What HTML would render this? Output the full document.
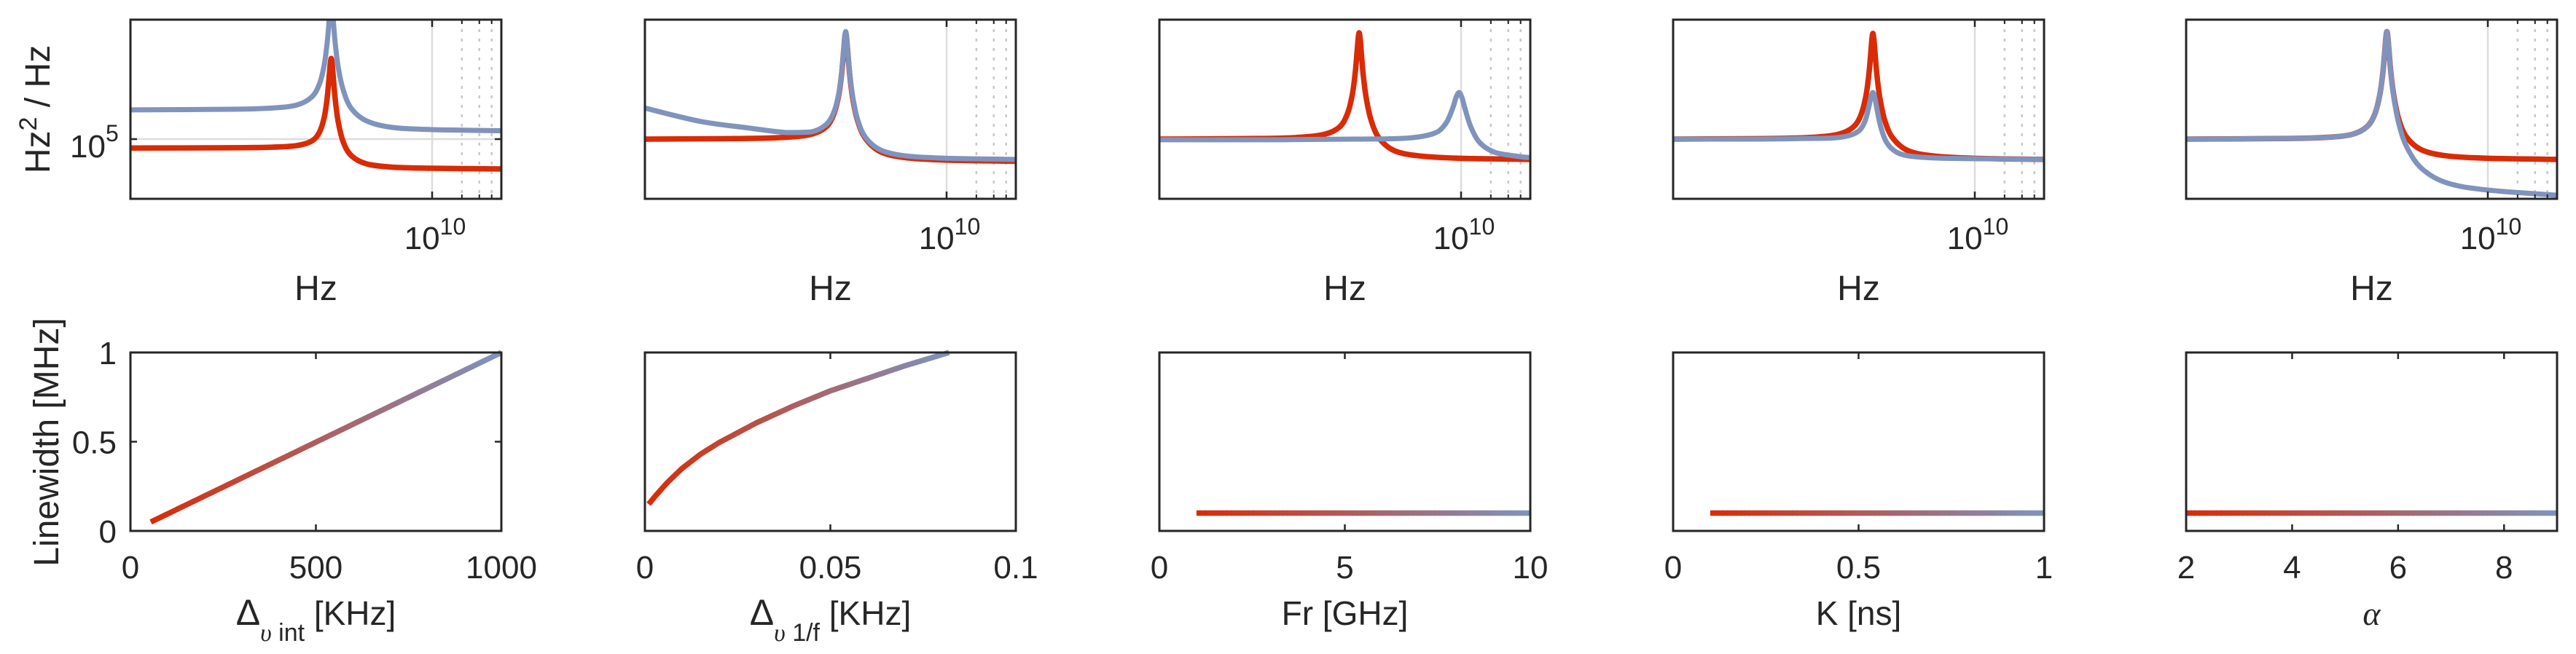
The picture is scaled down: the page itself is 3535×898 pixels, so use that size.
<!DOCTYPE html>
<html><head><meta charset="utf-8">
<style>
html,body{margin:0;padding:0;background:#fff;}
svg{display:block;}
text{font-family:"Liberation Sans",sans-serif;fill:#262626;}
</style></head>
<body>
<svg id="fig" width="3535" height="898" viewBox="0 0 3535 898" xmlns="http://www.w3.org/2000/svg">
<defs id="defs"></defs>
</svg>
<script>
// ---- Top row spectra (log10 frequency, log10 PSD) ----
const specLf1R=[6.95,7.98,8.38,8.63,8.78,8.86,8.91,8.94,8.96,8.97,8.98,8.99,9.0,9.02,9.05,9.10,9.18,9.33,9.58,9.98,10.7];
const specV1R=[4.85,4.855,4.864,4.891,4.965,5.112,5.37,5.703,6.062,6.256,6.35,6.254,6.055,5.675,5.297,4.96,4.728,4.589,4.532,4.512,4.50];
const specLf1B=[6.95,7.98,8.38,8.63,8.78,8.86,8.91,8.94,8.96,8.97,8.98,8.99,9.0,9.02,9.05,9.10,9.18,9.33,9.58,9.98,10.7];
const specV1B=[5.49,5.50,5.52,5.57,5.70,5.92,6.25,6.63,7.01,7.21,7.3,7.20,7.00,6.61,6.21,5.83,5.52,5.31,5.20,5.16,5.14];

const specLf2R=[6.95,7.98,8.38,8.63,8.78,8.86,8.91,8.94,8.96,8.97,8.98,8.99,9.0,9.02,9.05,9.10,9.18,9.33,9.58,9.98,10.7];
const specV2R=[5.0,5.01,5.03,5.08,5.2,5.42,5.74,6.11,6.49,6.69,6.78,6.68,6.48,6.09,5.69,5.31,5.01,4.79,4.69,4.65,4.63];
const specLf2B=[6.95,7.5,7.98,8.38,8.63,8.78,8.86,8.91,8.94,8.96,8.97,8.98,8.99,9.0,9.02,9.05,9.10,9.18,9.33,9.58,9.98,10.7];
const specV2B=[5.52,5.30,5.19,5.11,5.12,5.24,5.45,5.76,6.13,6.51,6.71,6.80,6.70,6.50,6.11,5.72,5.33,5.03,4.82,4.72,4.68,4.66];

const specLf3R=[6.95,7.97,8.37,8.62,8.77,8.85,8.90,8.93,8.95,8.96,8.97,8.98,8.99,9.01,9.04,9.09,9.17,9.32,9.57,9.97,10.7];
const specV3R=[5.0,5.01,5.03,5.08,5.2,5.42,5.74,6.11,6.49,6.69,6.78,6.68,6.48,6.09,5.70,5.32,5.02,4.81,4.72,4.68,4.66];
const specLf3B=[6.95,8.18,8.93,9.38,9.62,9.77,9.86,9.92,9.95,9.98,10.01,10.04,10.10,10.19,10.34,10.58,10.7];
const specV3B=[4.99,4.99,5.0,5.01,5.05,5.13,5.30,5.54,5.70,5.78,5.69,5.51,5.20,4.94,4.78,4.71,4.69];

const specLf4R=[6.95,7.97,8.37,8.62,8.77,8.85,8.90,8.93,8.95,8.96,8.97,8.98,8.99,9.01,9.04,9.09,9.17,9.32,9.57,9.97,10.7];
const specV4R=[5.0,5.01,5.03,5.08,5.2,5.41,5.73,6.1,6.48,6.68,6.77,6.67,6.47,6.08,5.69,5.31,5.02,4.81,4.72,4.68,4.66];
const specLf4B=[6.95,7.77,8.27,8.57,8.73,8.83,8.89,8.93,8.95,8.97,8.99,9.01,9.05,9.11,9.21,9.37,9.67,10.17,10.7];
const specV4B=[5.0,5.0,5.01,5.02,5.06,5.14,5.30,5.55,5.70,5.78,5.69,5.51,5.20,4.94,4.78,4.71,4.68,4.67,4.66];

const specLf5R=[6.95,7.98,8.38,8.63,8.78,8.86,8.91,8.94,8.96,8.97,8.98,8.99,9.0,9.02,9.05,9.10,9.18,9.33,9.58,9.98,10.7];
const specV5R=[5.0,5.01,5.03,5.08,5.21,5.43,5.76,6.13,6.51,6.71,6.8,6.70,6.50,6.11,5.72,5.33,5.03,4.82,4.72,4.68,4.66];
const specLf5B=[6.95,7.98,8.38,8.63,8.78,8.86,8.91,8.94,8.96,8.97,8.98,8.99,9.0,9.02,9.05,9.10,9.18,9.33,9.58,9.98,10.7];
const specV5B=[5.0,5.01,5.03,5.08,5.21,5.43,5.76,6.13,6.51,6.71,6.8,6.70,6.50,6.10,5.69,5.26,4.87,4.51,4.27,4.15,4.06];

// ---- Bottom row linewidth sweeps ----
const lwX1=[55,1000];            const lwY1=[0.05,1.0];
const lwX2=[0.001,0.003,0.006,0.01,0.015,0.02,0.03,0.04,0.05,0.06,0.07,0.082];
const lwY2=[0.15,0.2,0.27,0.35,0.43,0.495,0.605,0.70,0.785,0.855,0.925,1.0];
const lwX3=[1,10];               const lwY3=[0.1,0.1];
const lwX4=[0.1,1];              const lwY4=[0.1,0.1];
const lwX5=[2,9];                const lwY5=[0.1,0.1];

const xTicks1=[0,500,1000]; const xTickLbl1=["0","500","1000"];
const xTicks2=[0,0.05,0.1]; const xTickLbl2=["0","0.05","0.1"];
const xTicks3=[0,5,10];     const xTickLbl3=["0","5","10"];
const xTicks4=[0,0.5,1];    const xTickLbl4=["0","0.5","1"];
const xTicks5=[2,4,6,8];    const xTickLbl5=["2","4","6","8"];
const yTicksLw=[0,0.5,1];   const yTickLblLw=["0","0.5","1"];

const NS="http://www.w3.org/2000/svg";
const svg=document.getElementById('fig');
const defs=document.getElementById('defs');
const RED="#D92B06", BLUE="#7F93BD", AX="#262626";
const RED_RGB=[217,43,6], BLUE_RGB=[127,147,189];
const lefts=[179,885,1591,2296,3000];
const W=509;
const TT=27,TB=273,BT=484,BB=729;
const LX0=6.95,LX1=10.7,LY0=4,LY1=7;
const LW=7.5;

function mk(tag,attrs,parent){const e=document.createElementNS(NS,tag);for(const k in attrs)e.setAttribute(k,attrs[k]);(parent||svg).appendChild(e);return e;}

const topSpecs=[[specLf1R,specV1R,specLf1B,specV1B],[specLf2R,specV2R,specLf2B,specV2B],[specLf3R,specV3R,specLf3B,specV3B],[specLf4R,specV4R,specLf4B,specV4B],[specLf5R,specV5R,specLf5B,specV5B]];
const lwXs=[lwX1,lwX2,lwX3,lwX4,lwX5], lwYs=[lwY1,lwY2,lwY3,lwY4,lwY5];
const xlims=[[0,1000],[0,0.1],[0,10],[0,1],[2,9]];
const xticks=[xTicks1,xTicks2,xTicks3,xTicks4,xTicks5];
const xtl=[xTickLbl1,xTickLbl2,xTickLbl3,xTickLbl4,xTickLbl5];

function smoothPath(pts){
  let d="M"+pts[0][0]+","+pts[0][1];
  for(let i=0;i<pts.length-1;i++){
    const p0=pts[i-1]||pts[i],p1=pts[i],p2=pts[i+1],p3=pts[i+2]||p2;
    let c1x=p1[0]+(p2[0]-p0[0])/6,c1y=p1[1]+(p2[1]-p0[1])/6;
    let c2x=p2[0]-(p3[0]-p1[0])/6,c2y=p2[1]-(p3[1]-p1[1])/6;
    c1x=Math.min(Math.max(c1x,p1[0]),p2[0]);c2x=Math.min(Math.max(c2x,p1[0]),p2[0]);
    const lo=Math.min(p1[1],p2[1]),hi=Math.max(p1[1],p2[1]);
    c1y=Math.min(Math.max(c1y,lo),hi);c2y=Math.min(Math.max(c2y,lo),hi);
    d+=" C"+c1x+","+c1y+" "+c2x+","+c2y+" "+p2[0]+","+p2[1];
  }
  return d;
}
function mixColor(t){
  const c=RED_RGB.map((r,i)=>Math.round(r+(BLUE_RGB[i]-r)*t));
  return "rgb("+c.join(",")+")";
}
// dense resample of a polyline into short segments, each coloured by x-fraction
function gradientLine(pts,parent){
  const sub=[];
  for(let i=0;i<pts.length-1;i++){
    const a=pts[i],b=pts[i+1];
    const n=Math.max(2,Math.ceil(Math.hypot(b[0]-a[0],b[1]-a[1])/6));
    for(let k=0;k<n;k++){const t=k/n;sub.push([a[0]+(b[0]-a[0])*t,a[1]+(b[1]-a[1])*t]);}
  }
  sub.push(pts[pts.length-1]);
  const x0=pts[0][0],x1=pts[pts.length-1][0];
  for(let i=0;i<sub.length-1;i++){
    const a=sub[i],b=sub[i+1];
    const t=((a[0]+b[0])/2-x0)/(x1-x0);
    mk('line',{x1:a[0],y1:a[1],x2:b[0],y2:b[1],stroke:mixColor(t),"stroke-width":LW,"stroke-linecap":(i===0||i===sub.length-2)?"butt":"round"},parent);
  }
}

for(let p=0;p<5;p++){
  const L=lefts[p];
  const sx=v=>L+(v-LX0)/(LX1-LX0)*W;
  const sy=v=>TB-(v-LY0)/(LY1-LY0)*(TB-TT);
  const g=mk('g',{});
  
  
  const clip=mk('clipPath',{id:'clipT'+p},defs);
  mk('rect',{x:L,y:TT,width:W,height:TB-TT},clip);
  const gx=sx(10);
  const gl=mk('line',{x1:gx,x2:gx,y1:TT,y2:TB,stroke:"#dcdcdc","stroke-width":2.5},g);
  
  [2,3,4].forEach(m=>{const x=sx(10+Math.log10(m));
    const l=mk('line',{x1:x,x2:x,y1:TT,y2:TB,stroke:"#c8c8c8","stroke-width":2.5,"stroke-dasharray":"4,9"},g);
    });
  if(p===0){const y=sy(5);const l=mk('line',{x1:L,x2:L+W,y1:y,y2:y,stroke:"#dcdcdc","stroke-width":2.5},g);
    }
  const [rx,ry,bx,by]=topSpecs[p];
  const cg=mk('g',{"clip-path":"url(#clipT"+p+")"},g);
  const rp=mk('path',{d:smoothPath(rx.map((v,i)=>[sx(v),sy(ry[i])])),fill:"none",stroke:RED,"stroke-width":LW,"stroke-linejoin":"round"},cg);
  
  const bp=mk('path',{d:smoothPath(bx.map((v,i)=>[sx(v),sy(by[i])])),fill:"none",stroke:BLUE,"stroke-width":LW-0.5,"stroke-linejoin":"round"},cg);
  
  const fr=mk('rect',{x:L,y:TT,width:W,height:TB-TT,fill:"none",stroke:AX,"stroke-width":3},g);
  
  mk('line',{x1:gx,x2:gx,y1:TB,y2:TB-10,stroke:AX,"stroke-width":2.5},g);
  mk('line',{x1:gx,x2:gx,y1:TT,y2:TT+10,stroke:AX,"stroke-width":2.5},g);
  [2,3,4].forEach(m=>{const x=sx(10+Math.log10(m));
    mk('line',{x1:x,x2:x,y1:TB,y2:TB-6,stroke:AX,"stroke-width":2},g);
    mk('line',{x1:x,x2:x,y1:TT,y2:TT+6,stroke:AX,"stroke-width":2},g);});
  const tl=mk('text',{x:gx+4,y:342,"font-size":44,"text-anchor":"middle"},g);
  
  tl.innerHTML='10<tspan dy="-20" font-size="32">10</tspan>';
  const xl=mk('text',{x:L+W/2,y:412,"font-size":48,"text-anchor":"middle"},g);
  
  xl.textContent='Hz';
  if(p===0){
    const y=sy(5);
    mk('line',{x1:L,x2:L+9,y1:y,y2:y,stroke:AX,"stroke-width":2.5},g);
    mk('line',{x1:L+W,x2:L+W-9,y1:y,y2:y,stroke:AX,"stroke-width":2.5},g);
    const yl=mk('text',{x:96,y:216,"font-size":44},g);
    
    yl.innerHTML='10<tspan dy="-22" font-size="32">5</tspan>';
    const yt=mk('text',{x:0,y:0,"font-size":48,"text-anchor":"middle",transform:"translate(68,150) rotate(-90)"},g);
    
    yt.innerHTML='Hz<tspan dy="-18" font-size="34">2</tspan><tspan dy="18"> / Hz</tspan>';
  }

  // ---- bottom panel ----
  const [xa,xb]=xlims[p];
  const bxs=v=>L+(v-xa)/(xb-xa)*W;
  const bys=v=>BB-v*(BB-BT);
  const g2=mk('g',{});
  
  
  const xs=lwXs[p],ys=lwYs[p];
  const pts=xs.map((v,i)=>[bxs(v),bys(ys[i])]);
  const lg=mk('g',{},g2);
  
  
  gradientLine(pts,lg);
  const fr2=mk('rect',{x:L,y:BT,width:W,height:BB-BT,fill:"none",stroke:AX,"stroke-width":3},g2);
  
  xticks[p].forEach((t,i)=>{
    const x=bxs(t);
    mk('line',{x1:x,x2:x,y1:BB,y2:BB-9,stroke:AX,"stroke-width":2.5},g2);
    mk('line',{x1:x,x2:x,y1:BT,y2:BT+9,stroke:AX,"stroke-width":2.5},g2);
    const t2=mk('text',{x:x,y:794,"font-size":44,"text-anchor":"middle"},g2);
    
    t2.textContent=xtl[p][i];
  });
  if(p===0){
    yTicksLw.forEach((t,i)=>{const y=bys(t);
      mk('line',{x1:L,x2:L+9,y1:y,y2:y,stroke:AX,"stroke-width":2.5},g2);
      mk('line',{x1:L+W,x2:L+W-9,y1:y,y2:y,stroke:AX,"stroke-width":2.5},g2);
      const t3=mk('text',{x:160,y:y+16,"font-size":44,"text-anchor":"end"},g2);
      
      t3.textContent=yTickLblLw[i];});
    const yt2=mk('text',{x:0,y:0,"font-size":48,"text-anchor":"middle",transform:"translate(80,607) rotate(-90)"},g2);
    
    yt2.textContent='Linewidth [MHz]';
  }
}
const xlab=[
 '<tspan font-size="50">Δ</tspan><tspan font-size="34" dy="22" font-style="italic" font-family="Liberation Serif">υ</tspan><tspan font-size="34"> int</tspan><tspan dy="-22"> [KHz]</tspan>',
 '<tspan font-size="50">Δ</tspan><tspan font-size="34" dy="22" font-style="italic" font-family="Liberation Serif">υ</tspan><tspan font-size="34"> 1/f</tspan><tspan dy="-22"> [KHz]</tspan>',
 'Fr [GHz]','K [ns]',
 '<tspan font-style="italic" font-family="Liberation Serif">α</tspan>'];
const xlNames=['x-axis-title-delta-int','x-axis-title-delta-1f','x-axis-title-fr','x-axis-title-k','x-axis-title-alpha'];
for(let p=0;p<5;p++){
  const t=mk('text',{x:lefts[p]+W/2,y:858,"font-size":46,"text-anchor":"middle"});
  
  
  t.innerHTML=xlab[p];
}
</script>
</body></html>
